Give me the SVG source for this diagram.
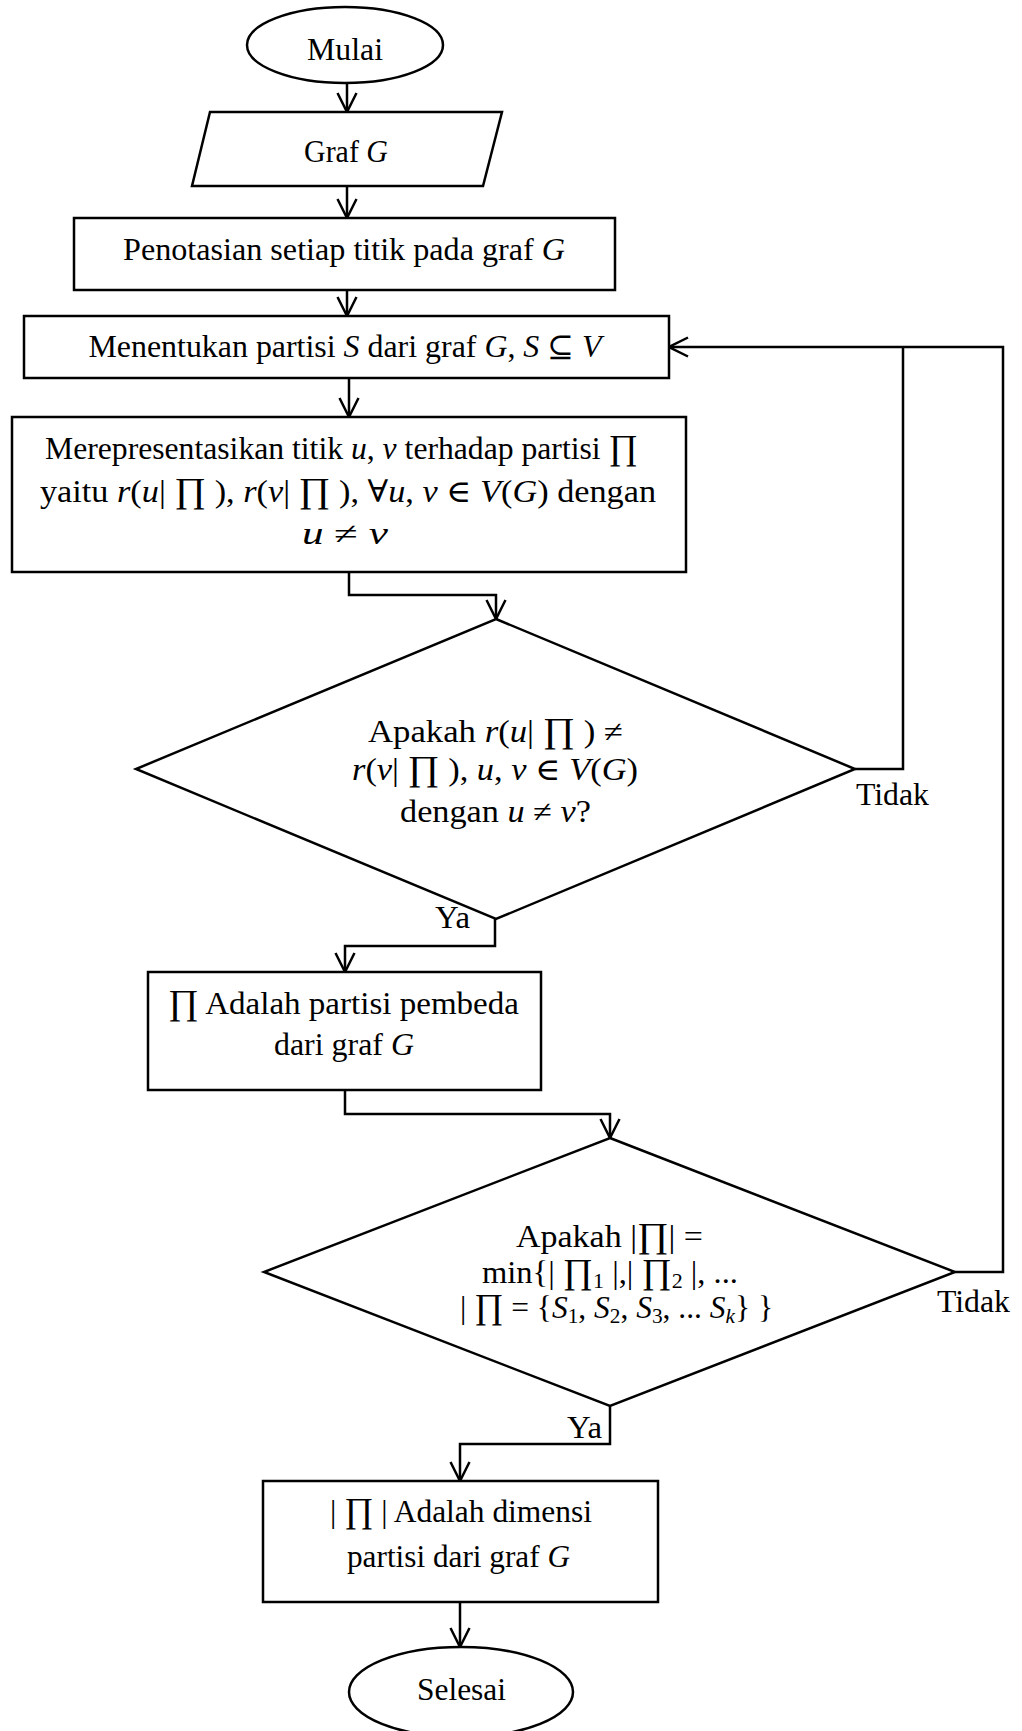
<svg xmlns="http://www.w3.org/2000/svg" width="1022" height="1731" viewBox="0 0 1022 1731">
<defs>
<style>
.s{fill:#fff;stroke:#000;stroke-width:2.5}
.c{fill:none;stroke:#000;stroke-width:2.5}
text{font-family:"Liberation Serif","DejaVu Serif",serif;font-size:31px;fill:#000}
.m{text-anchor:middle}
.i{font-style:italic}
.p{font-size:35px}
.sb{font-size:21px}
</style>
<marker id="arr" markerUnits="userSpaceOnUse" viewBox="-22 -12 24 24" refX="0" refY="0" markerWidth="24" markerHeight="24" orient="auto">
<path d="M-19,-9.5 L0,0 L-19,9.5" fill="none" stroke="#000" stroke-width="2.5"/>
</marker>
</defs>
<rect width="1022" height="1731" fill="#fff"/>
<g id="connectors">
<path class="c" d="M347,83 V112" marker-end="url(#arr)"/>
<path class="c" d="M347,186 V218" marker-end="url(#arr)"/>
<path class="c" d="M347,290 V316" marker-end="url(#arr)"/>
<path class="c" d="M349,378 V417" marker-end="url(#arr)"/>
<path class="c" d="M349,572 V595 H496 V619" marker-end="url(#arr)"/>
<path class="c" d="M855,769 H903 V347"/>
<path class="c" d="M955,1272 H1003 V347 H669" marker-end="url(#arr)"/>
<path class="c" d="M495,919 V946 H345 V972" marker-end="url(#arr)"/>
<path class="c" d="M345,1090 V1114 H610 V1138" marker-end="url(#arr)"/>
<path class="c" d="M610,1406 V1444 H460 V1481" marker-end="url(#arr)"/>
<path class="c" d="M460,1602 V1647" marker-end="url(#arr)"/>
<text x="856" y="805" textLength="73" lengthAdjust="spacingAndGlyphs">Tidak</text>
<text x="435" y="928" textLength="35" lengthAdjust="spacingAndGlyphs">Ya</text>
<text x="937" y="1312" textLength="73" lengthAdjust="spacingAndGlyphs">Tidak</text>
<text x="567" y="1438" textLength="35" lengthAdjust="spacingAndGlyphs">Ya</text>
</g>
<g id="mulai">
<ellipse class="s" cx="345" cy="45" rx="98" ry="38"/>
<text class="m" x="345" y="60" textLength="76" lengthAdjust="spacingAndGlyphs">Mulai</text>
</g>
<g id="graf">
<polygon class="s" points="210,112 502,112 483,186 192,186"/>
<text class="m" x="346" y="162" textLength="84" lengthAdjust="spacingAndGlyphs">Graf <tspan class="i">G</tspan></text>
</g>
<g id="penotasian">
<rect class="s" x="74" y="218" width="541" height="72"/>
<text class="m" x="344" y="260" textLength="442" lengthAdjust="spacingAndGlyphs">Penotasian setiap titik pada graf  <tspan class="i">G</tspan></text>
</g>
<g id="menentukan">
<rect class="s" x="24" y="316" width="645" height="62"/>
<text class="m" x="345" y="357" textLength="513" lengthAdjust="spacingAndGlyphs">Menentukan partisi <tspan class="i">S</tspan> dari graf <tspan class="i">G</tspan>, <tspan class="i">S</tspan> ⊆ <tspan class="i">V</tspan></text>
</g>
<g id="representasi">
<rect class="s" x="12" y="417" width="674" height="155"/>
<text class="m" x="341.5" y="459" textLength="593" lengthAdjust="spacingAndGlyphs">Merepresentasikan titik <tspan class="i">u</tspan>, <tspan class="i">v</tspan> terhadap partisi <tspan class="p">∏</tspan></text>
<text class="m" x="348" y="502" textLength="616" lengthAdjust="spacingAndGlyphs">yaitu <tspan class="i">r</tspan>(<tspan class="i">u</tspan>| <tspan class="p">∏</tspan> ), <tspan class="i">r</tspan>(<tspan class="i">v</tspan>| <tspan class="p">∏</tspan> ),  ∀<tspan class="i">u</tspan>, <tspan class="i">v</tspan> ∈ <tspan class="i">V</tspan>(<tspan class="i">G</tspan>) dengan</text>
<text class="m" x="345" y="544" textLength="86" lengthAdjust="spacingAndGlyphs"><tspan class="i">u</tspan> ≠ <tspan class="i">v</tspan></text>
</g>
<g id="keputusan1">
<polygon class="s" points="496,619 855,769 496,919 136,769"/>
<text class="m" x="495.5" y="742" textLength="255" lengthAdjust="spacingAndGlyphs">Apakah <tspan class="i">r</tspan>(<tspan class="i">u</tspan>| <tspan class="p">∏</tspan> ) ≠</text>
<text class="m" x="495" y="780" textLength="286" lengthAdjust="spacingAndGlyphs"><tspan class="i">r</tspan>(<tspan class="i">v</tspan>| <tspan class="p">∏</tspan> ), <tspan class="i">u</tspan>, <tspan class="i">v</tspan> ∈ <tspan class="i">V</tspan>(<tspan class="i">G</tspan>)</text>
<text class="m" x="495.5" y="822" textLength="191" lengthAdjust="spacingAndGlyphs">dengan <tspan class="i">u</tspan> ≠ <tspan class="i">v</tspan>?</text>
</g>
<g id="pembeda">
<rect class="s" x="148" y="972" width="393" height="118"/>
<text class="m" x="343.5" y="1014" textLength="351" lengthAdjust="spacingAndGlyphs"><tspan class="p">∏</tspan>  Adalah partisi pembeda</text>
<text class="m" x="344" y="1055" textLength="140" lengthAdjust="spacingAndGlyphs">dari graf <tspan class="i">G</tspan></text>
</g>
<g id="keputusan2">
<polygon class="s" points="610,1138 955,1272 610,1406 264,1272"/>
<text class="m" x="609.5" y="1247" textLength="187" lengthAdjust="spacingAndGlyphs">Apakah |<tspan class="p">∏</tspan>| =</text>
<text class="m" x="610" y="1283" textLength="256" lengthAdjust="spacingAndGlyphs">min{| <tspan class="p">∏</tspan><tspan class="sb" dy="5">1</tspan><tspan dy="-5"> |,| </tspan><tspan class="p">∏</tspan><tspan class="sb" dy="5">2</tspan><tspan dy="-5"> |, ...</tspan></text>
<text class="m" x="616.5" y="1318" textLength="313" lengthAdjust="spacingAndGlyphs">| <tspan class="p">∏</tspan> = {<tspan class="i">S</tspan><tspan class="sb" dy="5">1</tspan><tspan dy="-5">, </tspan><tspan class="i">S</tspan><tspan class="sb" dy="5">2</tspan><tspan dy="-5">, </tspan><tspan class="i">S</tspan><tspan class="sb" dy="5">3</tspan><tspan dy="-5">, ... </tspan><tspan class="i">S</tspan><tspan class="sb i" dy="5">k</tspan><tspan dy="-5">} }</tspan></text>
</g>
<g id="dimensi">
<rect class="s" x="263" y="1481" width="395" height="121"/>
<text class="m" x="461" y="1522" textLength="262" lengthAdjust="spacingAndGlyphs">| <tspan class="p">∏</tspan> | Adalah dimensi</text>
<text class="m" x="458.5" y="1567" textLength="223" lengthAdjust="spacingAndGlyphs">partisi dari graf <tspan class="i">G</tspan></text>
</g>
<g id="selesai">
<ellipse class="s" cx="461" cy="1692" rx="112" ry="45"/>
<text class="m" x="461.5" y="1700" textLength="89" lengthAdjust="spacingAndGlyphs">Selesai</text>
</g>
</svg>
